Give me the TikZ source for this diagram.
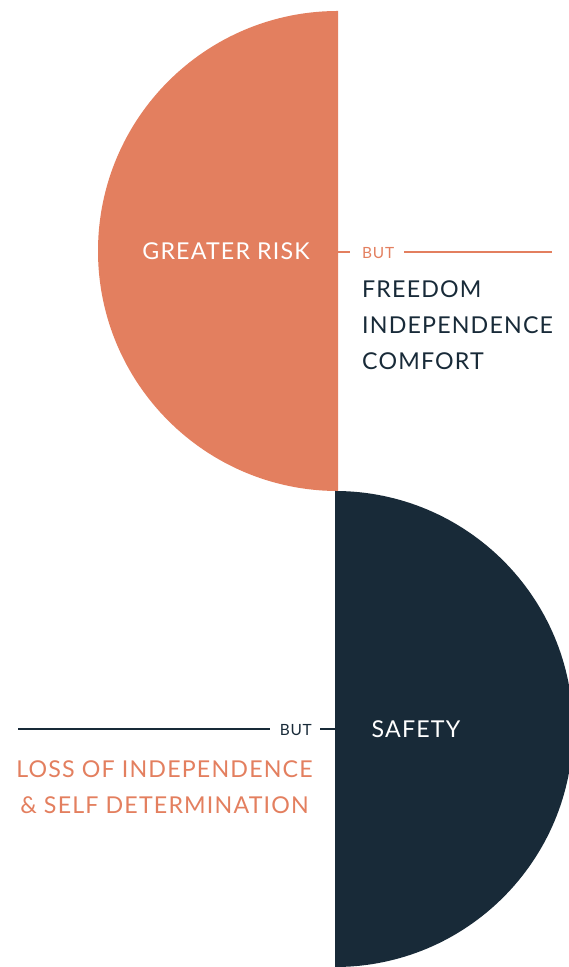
\documentclass[tikz,border=0pt]{standalone}
\usepackage{fontspec}
\setmainfont{Lato}[LetterSpace=5]
\definecolor{orng}{HTML}{E37F5F}
\definecolor{navy}{HTML}{182A38}
\begin{document}
\begin{tikzpicture}[x=1bp,y=1bp,
  big/.style={font=\fontsize{23.3}{36.5}\selectfont, inner sep=0pt},
  small/.style={font=\fontsize{15.5}{18}\selectfont, inner sep=0pt},
  rule/.style={line width=2.4bp}]
\useasboundingbox (0,0) rectangle (569,967);
\clip (0,0) rectangle (569,967);
% half discs
\fill[orng] (338,956) arc[start angle=90, end angle=270, radius=240] -- cycle;
\fill[navy] (335,476) arc[start angle=90, end angle=-90, radius=238] -- cycle;
% top part
\node[big, text=white] (risk) at (226,716) {GREATER RISK};
\coordinate (tl) at (338,715);
\coordinate (tr) at (552,715);
\node[small, text=orng, anchor=west] (but1) at (362,714) {BUT};
\draw[rule, orng] (tl) -- ([xshift=-12bp]but1.west |- tl);
\draw[rule, orng] ([xshift=10bp]but1.east |- tr) -- (tr);
\node[big, text=navy, anchor=north west, align=left] (pos) at (362,687)
  {FREEDOM\\INDEPENDENCE\\COMFORT};
% bottom part
\node[big, text=white] (safe) at (416,238) {SAFETY};
\coordinate (bl) at (18,238);
\coordinate (br) at (335,238);
\node[small, text=navy, anchor=east] (but2) at (312,237) {BUT};
\draw[rule, navy] (bl) -- ([xshift=-10bp]but2.west |- bl);
\draw[rule, navy] ([xshift=8bp]but2.east |- br) -- (br);
\node[big, text=orng, anchor=north, align=center] (neg) at (164.5,207)
  {LOSS OF INDEPENDENCE\\\& SELF DETERMINATION};
\end{tikzpicture}
\end{document}
